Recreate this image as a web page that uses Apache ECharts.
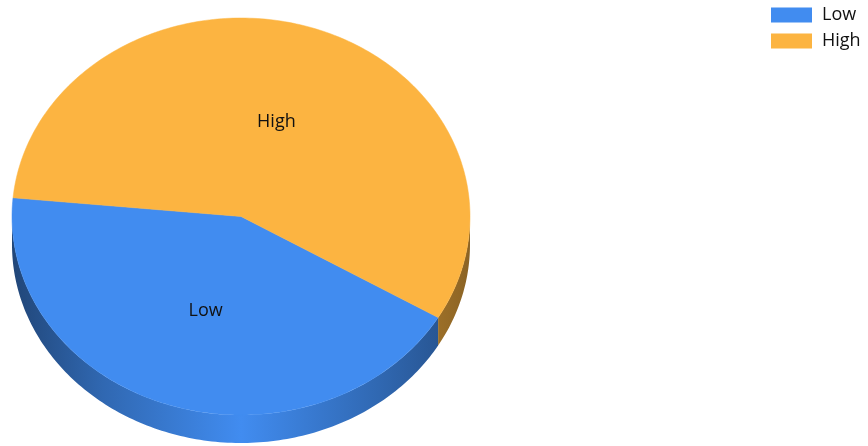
<!DOCTYPE html>
<html>
<head>
<meta charset="utf-8">
<script src="https://cdn.jsdelivr.net/npm/echarts@6/dist/echarts.min.js"></script>
<style>
html,body{margin:0;padding:0;background:#fff;}
#chart{width:868px;height:446px;}
</style>
</head>
<body>
<div id="chart"></div>
<script>
// ---- data ----
const categories = ['Low', 'High'];
const values = [43, 57];
const colors = ['#418CF0', '#FCB441'];

// ---- layout (style constants) ----
const CX = 241, CY = 216.5, RX = 229, RY = 198.5, DEPTH = 28;
const START = 30.6; // screen degrees, clockwise from +x
const FONT = '"Open Sans", sans-serif';

function shade(hex, f) {
  const n = parseInt(hex.slice(1), 16);
  const r = Math.round(((n >> 16) & 255) * f), g = Math.round(((n >> 8) & 255) * f), b = Math.round((n & 255) * f);
  return 'rgb(' + r + ',' + g + ',' + b + ')';
}
function pt(deg, dy) {
  const a = deg * Math.PI / 180;
  return [CX + RX * Math.cos(a), CY + RY * Math.sin(a) + (dy || 0)];
}
function arc(a0, a1, dy) {
  const pts = [];
  const steps = Math.max(2, Math.ceil(Math.abs(a1 - a0)));
  for (let i = 0; i <= steps; i++) pts.push(pt(a0 + (a1 - a0) * i / steps, dy));
  return pts;
}
const total = values.reduce((s, v) => s + v, 0);

function makeRender(idx) {
  return function (params, api) {
    const v = api.value(0);
    let before = 0;
    for (let k = 0; k < idx; k++) before += values[k];
    const a0 = START + 360 * before / total;
    const a1 = a0 + 360 * v / total;
    const base = colors[idx];
    const children = [];
    // side walls (front half only)
    for (let k = -1; k <= 2; k++) {
      const lo = Math.max(a0, k * 360), hi = Math.min(a1, k * 360 + 180);
      if (lo < hi) {
        const pts = arc(lo, hi, 0).concat(arc(hi, lo, DEPTH));
        children.push({
          type: 'polygon', z2: 1,
          shape: { points: pts },
          style: {
            fill: {
              type: 'linear', x: CX - RX, y: 0, x2: CX + RX, y2: 0, global: true,
              colorStops: [
                { offset: 0, color: shade(base, 0.5) },
                { offset: 0.2, color: shade(base, 0.74) },
                { offset: 0.5, color: shade(base, 1.0) },
                { offset: 0.8, color: shade(base, 0.74) },
                { offset: 1, color: shade(base, 0.55) }
              ]
            },
            stroke: null
          }
        });
      }
    }
    // top face
    children.push({
      type: 'polygon', z2: 5,
      shape: { points: [[CX, CY]].concat(arc(a0, a1, 0)) },
      style: { fill: base, stroke: base, lineWidth: 0.5 }
    });
    // label at half radius
    const mid = (a0 + a1) / 2 * Math.PI / 180;
    children.push({
      type: 'text', z2: 10,
      x: CX + 0.5 * RX * Math.cos(mid), y: CY + 0.5 * RY * Math.sin(mid),
      style: {
        text: categories[idx], fill: '#111111', font: '18px ' + FONT,
        align: 'center', verticalAlign: 'middle'
      }
    });
    return { type: 'group', children: children };
  };
}

const series = categories.map((name, i) => ({
  type: 'custom',
  name: name,
  coordinateSystem: 'none',
  itemStyle: { color: colors[i] },
  data: [[values[i]]],
  renderItem: makeRender(i),
  silent: true
}));

const chart = echarts.init(document.getElementById('chart'), null, { renderer: 'canvas' });
chart.setOption({
  animation: false,
  backgroundColor: '#ffffff',
  legend: {
    data: categories,
    orient: 'vertical',
    left: 771, top: 6,
    padding: 0,
    itemWidth: 41, itemHeight: 15,
    itemGap: 8,
    icon: 'rect',
    selectedMode: false,
    textStyle: { fontFamily: FONT, fontSize: 18, color: '#111111', padding: [0, 0, 0, 5] }
  },
  series: series
});
</script>
</body>
</html>
